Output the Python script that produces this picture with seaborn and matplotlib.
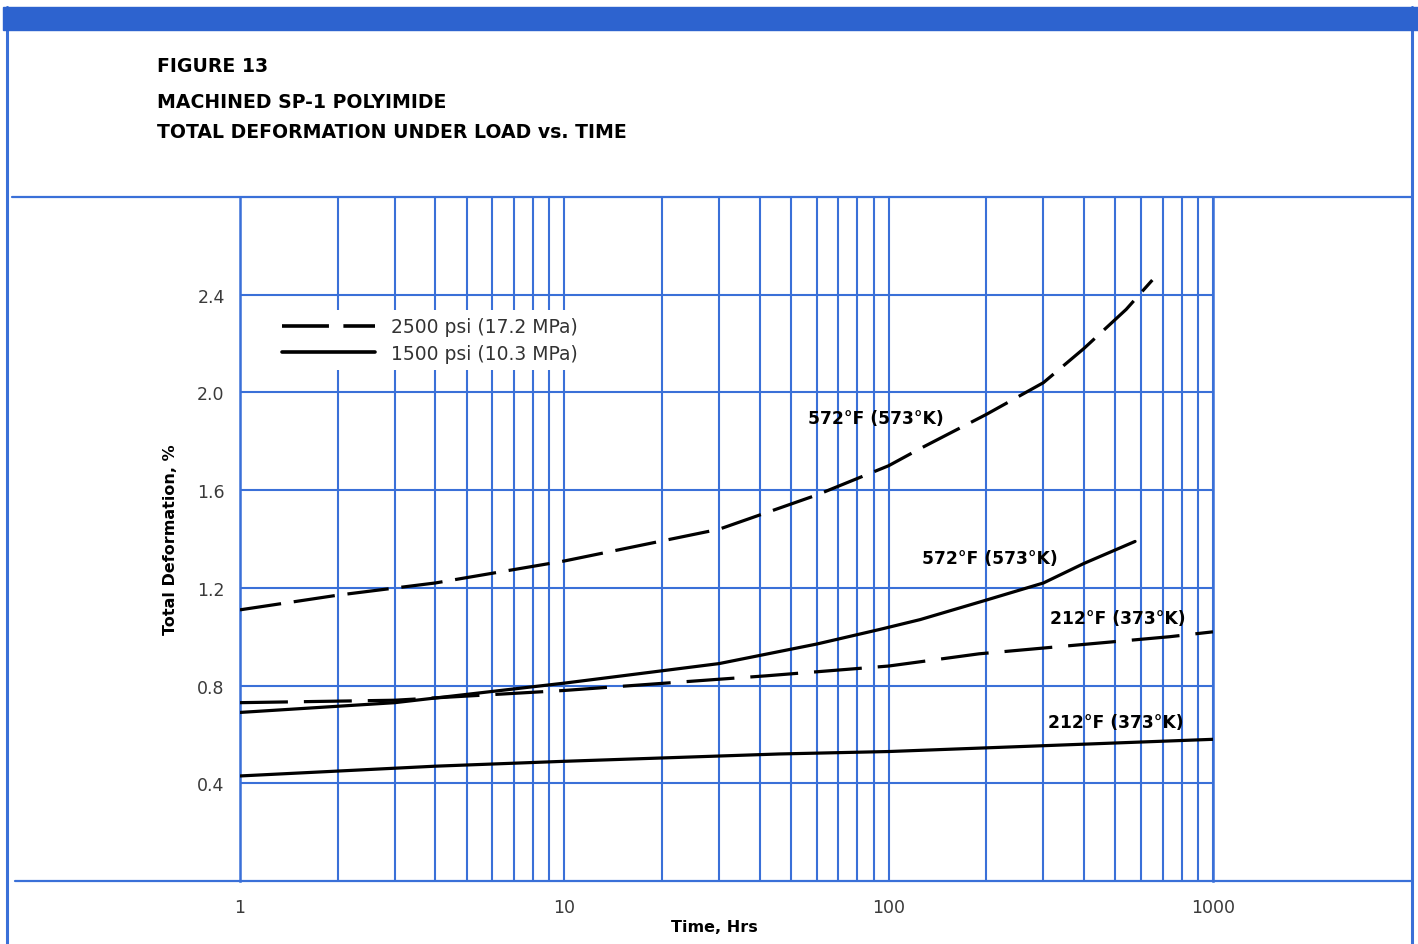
import matplotlib
matplotlib.use("Agg")
import matplotlib.pyplot as plt
from matplotlib.lines import Line2D
import seaborn as sns
import pandas as pd

# Creep curves: total deformation (%) against time under load (hours)
hours_572_2500 = [1, 2, 4, 10, 30, 60, 100, 125, 200, 300, 400, 540, 650]
defo_572_2500 = [1.11, 1.17, 1.22, 1.31, 1.44, 1.58, 1.70, 1.77, 1.91, 2.04, 2.18, 2.34, 2.46]

hours_572_1500 = [1, 3, 10, 30, 60, 94, 125, 200, 300, 400, 575]
defo_572_1500 = [0.69, 0.73, 0.81, 0.89, 0.97, 1.03, 1.07, 1.15, 1.22, 1.30, 1.39]

hours_212_2500 = [1, 3, 10, 42, 100, 190, 735, 1000]
defo_212_2500 = [0.73, 0.74, 0.78, 0.84, 0.88, 0.93, 1.00, 1.02]

hours_212_1500 = [1, 4, 10, 46, 100, 1000]
defo_212_1500 = [0.43, 0.47, 0.49, 0.52, 0.53, 0.58]

series_labels = ["572°F (573°K)", "572°F (573°K)", "212°F (373°K)", "212°F (373°K)"]
label_pos = [(56.4, 1.895), (126.8, 1.324), (314.6, 1.076), (310.0, 0.652)]

legend_labels = ["2500 psi (17.2 MPa)", "1500 psi (10.3 MPa)"]
y_ticks = [0.4, 0.8, 1.2, 1.6, 2.0, 2.4]
x_ticks = [1, 10, 100, 1000]
x_ticklabels = ["1", "10", "100", "1000"]

BLUE = "#3a70d8"
BAR_BLUE = "#2d63cf"
DASH = (0, (13, 4))

sns.set_theme(style="white")
plt.rcParams["font.family"] = ["DejaVu Sans"]
plt.rcParams["text.color"] = "black"

fig = plt.figure(figsize=(14.18, 9.45), dpi=100)
W, H = 1418.0, 945.0


def fx(px):
    return px / W


def fy(py):
    return 1 - py / H


# frame around the figure
fig.patches.append(plt.Rectangle((fx(3), fy(31)), fx(1418 - 3), 23 / H,
                                 transform=fig.transFigure, color=BAR_BLUE, zorder=5))
for xs, ys, lw in [([7, 7], [8, 945], 2.2),
                   ([1412, 1412], [8, 945], 2.2),
                   ([12, 1412], [198, 198], 1.6),
                   ([15, 1412], [882, 882], 1.6)]:
    fig.lines.append(Line2D([fx(v) for v in xs], [fy(v) for v in ys],
                            transform=fig.transFigure, color=BLUE, lw=lw))

ax = fig.add_axes([fx(240), fy(882), fx(1213 - 240), (882 - 198) / H])

for hrs, vals, ls in [(hours_572_2500, defo_572_2500, DASH),
                      (hours_572_1500, defo_572_1500, "-"),
                      (hours_212_2500, defo_212_2500, (0, (15, 5))),
                      (hours_212_1500, defo_212_1500, "-")]:
    df = pd.DataFrame({"hours": hrs, "deformation": vals})
    sns.lineplot(data=df, x="hours", y="deformation", ax=ax, color="black",
                 lw=2.3, linestyle=ls, legend=False, zorder=3)

ax.set_xscale("log")
ax.set_xlim(1, 1000)
ax.set_ylim(0, 2.8)
ax.set_xticks(x_ticks)
ax.set_xticklabels(x_ticklabels)
ax.set_yticks(y_ticks)
ax.set_yticklabels([f"{v:.1f}" for v in y_ticks])
ax.xaxis.set_minor_locator(matplotlib.ticker.LogLocator(base=10, subs=range(2, 10)))
ax.xaxis.set_minor_formatter(matplotlib.ticker.NullFormatter())

ax.set_axisbelow(True)
ax.grid(which="major", axis="both", color=BLUE, lw=1.5)
ax.grid(which="minor", axis="x", color=BLUE, lw=1.5)
for side in ["top", "bottom"]:
    ax.spines[side].set_visible(False)
for side in ["left", "right"]:
    ax.spines[side].set_color(BLUE)
    ax.spines[side].set_linewidth(1.8)

ax.tick_params(axis="both", which="both", length=0)
ax.tick_params(axis="y", pad=11, labelsize=12.5, labelcolor="#3a3a3a")
ax.tick_params(axis="x", pad=12, labelsize=12.5, labelcolor="#3a3a3a")

ax.set_xlabel("Time, Hrs", fontsize=11.5, fontweight="bold", color="black")
ax.xaxis.set_label_coords(0.488, -0.055)
ax.set_ylabel("Total Deformation, %", fontsize=11.5, fontweight="bold", color="black")
ax.yaxis.set_label_coords(-0.064, 0.5)

for text, (x, y) in zip(series_labels, label_pos):
    ax.text(x, y, text, ha="left", va="center", fontsize=12.3, fontweight="bold",
            color="black", zorder=4)

handles = [Line2D([], [], color="black", lw=2.6, linestyle=DASH),
           Line2D([], [], color="black", lw=2.6)]
leg = ax.legend(handles, legend_labels, loc="upper left",
                bbox_to_anchor=(0.035, 0.835), borderaxespad=0, frameon=True,
                facecolor="white", edgecolor="none", framealpha=1, fancybox=False,
                fontsize=13.5, handlelength=5.0, handletextpad=0.85, labelspacing=0.4,
                labelcolor="#333333")
leg.set_zorder(5)

for text, py in [("FIGURE 13", 66), ("MACHINED SP-1 POLYIMIDE", 102),
                 ("TOTAL DEFORMATION UNDER LOAD vs. TIME", 133)]:
    fig.text(fx(157), fy(py), text, fontsize=13.6, fontweight="bold", va="center",
             color="black")

fig.savefig("out.png", dpi=100, facecolor="white")
